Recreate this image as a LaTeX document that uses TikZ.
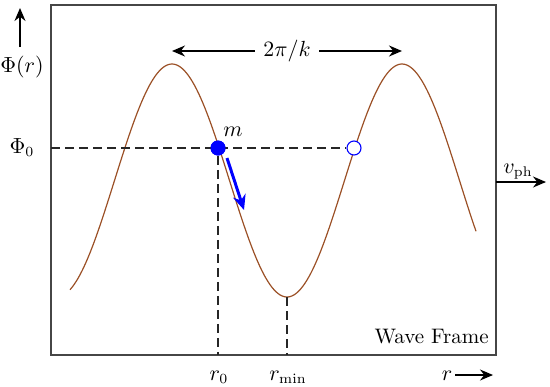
\documentclass[tikz,border=0pt]{standalone}
\usetikzlibrary{arrows.meta}
\definecolor{wavecol}{RGB}{155,80,38}
\definecolor{boxcol}{RGB}{70,70,70}
\begin{document}
\begin{tikzpicture}[x=0.5pt,y=-0.5pt,font=\fontsize{10.5}{12}\selectfont,
  boxline/.style={draw=boxcol,line width=0.7pt},
  guide/.style={draw=black!85,line width=0.6pt,dash pattern=on 4.5pt off 2.5pt},
  arr/.style={-{Stealth[length=6.5pt,width=5.5pt]},line width=0.65pt},
  lbl/.style={inner sep=0pt,anchor=base},
  bluedot/.style={circle,fill=blue,inner sep=0pt,minimum size=7.5pt},
  blueopen/.style={circle,draw=blue,line width=0.55pt,fill=white,inner sep=0pt,minimum size=7pt}]
\useasboundingbox (0,0) rectangle (550,386);
\draw[boxline] (51,5) rectangle (496,355);
% wave
\draw[wavecol,line width=0.6pt,domain=70:476,samples=200] plot (\x,{180.5-116.5*cos(1.565217*(\x-172))});
% guides
\node[bluedot] (m) at (218,148) {};
\node[blueopen] (o) at (354,148) {};
\coordinate (phil) at (51,148);
\coordinate (r0b) at (218,355);
\coordinate (tr) at (287,297);
\coordinate (rminb) at (287,355);
\draw[guide] (phil) -- (o.west);
\draw[guide] (m) -- (r0b);
\draw[guide] (tr) -- (rminb);
\node[bluedot] at (m) {};
% labels
\node[lbl] (phir) at (22,72) {$\Phi(r)$};
\coordinate (phia) at (20,47);
\coordinate (phib) at (20,8);
\draw[arr] (phia) -- (phib);
\node[lbl] (phi0) at (22,153) {$\Phi_0$};
\node[lbl] (mlab) at (233,136) {$m$};
\node[lbl] (r0) at (219,380) {$r_0$};
\node[lbl] (rmin) at (288,380) {$r_{\min}$};
\node[lbl] (rr) at (447,380) {$r$};
\coordinate (ra) at (455,375);
\coordinate (rb) at (493,375);
\draw[arr] (ra) -- (rb);
\node[lbl,anchor=base east] (wf) at (489,343) {Wave Frame};
% period
\node[inner sep=4pt] (per) at (287,51) {$2\pi/k$};
\coordinate (pl) at (172,51);
\coordinate (pr) at (402,51);
\draw[arr] (per.west) -- (pl);
\draw[arr] (per.east) -- (pr);
% vph
\coordinate (va) at (496,182);
\coordinate (vb) at (546,182);
\draw[arr] (va) -- (vb);
\node[lbl] (vph) at (518,173) {$v_{\mathrm{ph}}$};
% velocity arrow
\coordinate (ba) at (227,158);
\coordinate (bb) at (244,210);
\draw[-{Stealth[length=7.5pt,width=6.5pt]},blue,line width=1.5pt] (ba) -- (bb);
\end{tikzpicture}
\end{document}
